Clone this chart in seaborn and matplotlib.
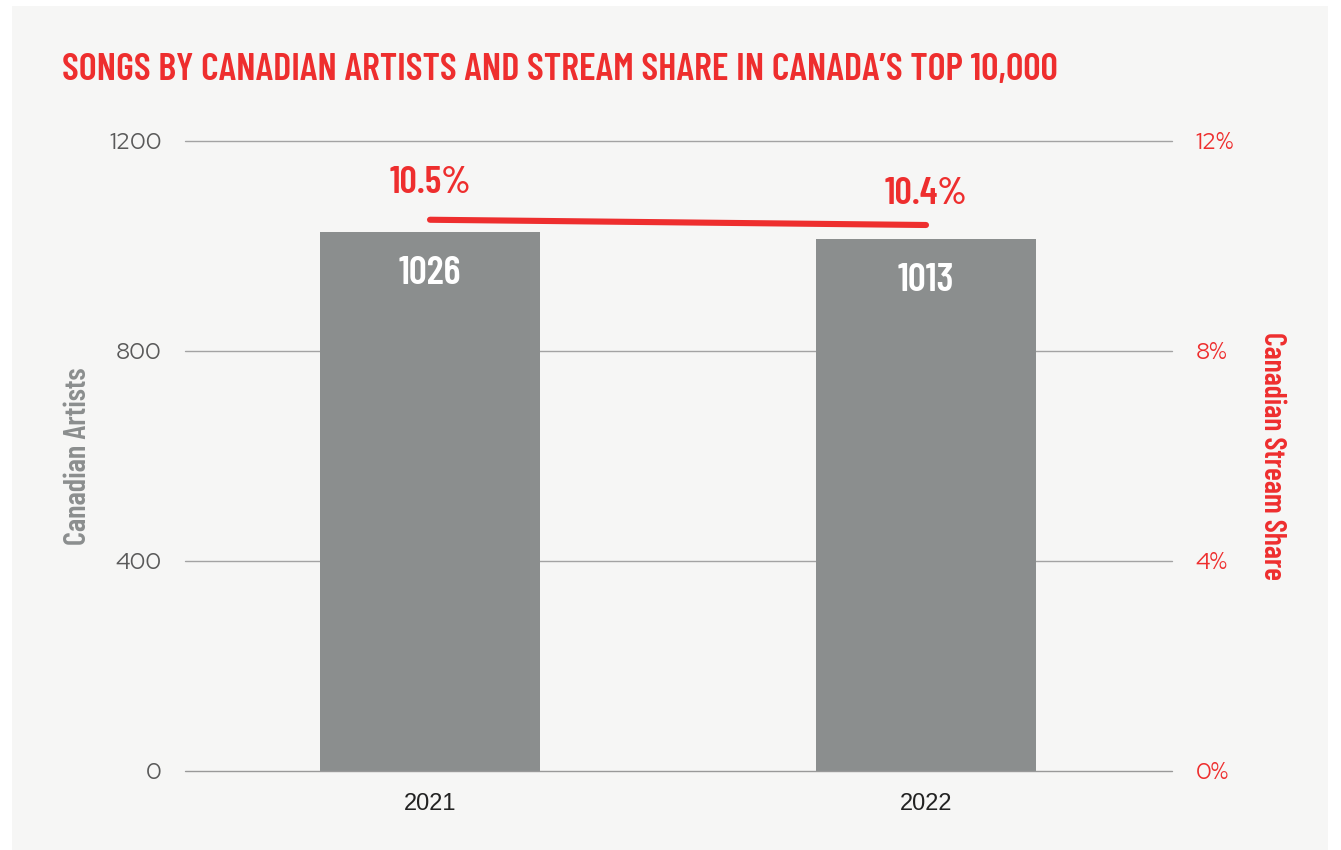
import matplotlib
matplotlib.use("Agg")
import matplotlib.pyplot as plt
from matplotlib.patches import Rectangle
from matplotlib import font_manager
import numpy as np
import seaborn as sns

# Data
years = ["2021", "2022"]
artists = [1026, 1013]
stream_share = [10.5, 10.4]
left_ticks = [0, 400, 800, 1200]
right_ticks = [0, 4, 8, 12]

RED = "#ee2e2e"
GREY_BAR = "#8b8e8e"
PANEL = "#f6f6f5"

installed = {f.name for f in font_manager.fontManager.ttflist}


def pick(*names):
    for n in names:
        if n in installed:
            return n
    return "DejaVu Sans"


COND = pick("Barlow Condensed", "Fira Sans Extra Condensed", "Roboto Condensed")
TICK = pick("Red Hat Display", "Albert Sans", "Lato")
XTICK = pick("Liberation Sans", "Arimo", "DejaVu Sans")

sns.set_theme(style="white")
plt.rcParams["font.family"] = [TICK, "DejaVu Sans"]

fig = plt.figure(figsize=(13.41, 8.5), dpi=100, facecolor="white")
W, H = 1341, 850

# light panel behind the chart
fig.patches.append(Rectangle((12 / W, 0), 1316 / W, 844 / H, transform=fig.transFigure,
                             facecolor=PANEL, edgecolor="none", zorder=-10))

ax = fig.add_axes([185 / W, (H - 771) / H, 987 / W, 630 / H])
ax.set_facecolor("none")

sns.barplot(x=years, y=artists, color=GREY_BAR, saturation=1, width=0.4435, ax=ax,
            edgecolor="none", linewidth=0, zorder=3)
ax.set_xlim(-0.494, 1.496)
ax.set_ylim(0, 1200)
ax.set_yticks(left_ticks)
ax.set_yticklabels([str(t) for t in left_ticks])
for y in left_ticks:
    ax.axhline(y, color="#a3a3a3" if y else "#999999", lw=1.0, zorder=1 if y else 4,
               clip_on=False)
for s in ax.spines.values():
    s.set_visible(False)
ax.tick_params(axis="y", length=0, pad=17, labelsize=17, labelcolor="#5a5a5a")
ax.tick_params(axis="x", length=0, pad=16, labelsize=17, labelcolor="#222222")
for lbl in ax.get_xticklabels():
    lbl.set_family(XTICK)
ax.set_xlabel("")
ax.set_ylabel("Canadian Artists", family=COND, weight="semibold", fontsize=22, color=GREY_BAR)
ax.yaxis.label.set_va("center")
ax.yaxis.set_label_coords(-0.1085, 0.5)

# value labels inside the bars
for i, v in enumerate(artists):
    ax.annotate(str(v), (i, v), xytext=(0, -30), textcoords="offset points",
                ha="center", va="center", family=COND, weight="semibold", fontsize=28.5,
                color="white", zorder=5)

ax2 = ax.twinx()
ax2.set_facecolor("none")
sns.lineplot(x=np.arange(len(years)), y=stream_share, color=RED, lw=4.4,
             solid_capstyle="round", ax=ax2, zorder=6)
ax2.set_xlim(-0.494, 1.496)
ax2.set_ylim(0, 12)
ax2.set_yticks(right_ticks)
ax2.set_yticklabels([f"{t}%" for t in right_ticks])
for s in ax2.spines.values():
    s.set_visible(False)
ax2.tick_params(axis="y", length=0, pad=17, labelsize=17, labelcolor=RED)
ax2.grid(False)
ax2.set_ylabel("Canadian Stream Share", family=COND, weight="semibold", fontsize=21.5,
               color=RED, rotation=270)
ax2.yaxis.label.set_va("center")
ax2.yaxis.set_label_coords(1.1013, 0.5)

share_offsets = [26.5, 22.5]
for i, v in enumerate(stream_share):
    ax2.annotate(f"{v}%", (i, v), xytext=(0, share_offsets[i]), textcoords="offset points",
                 ha="center", va="center", family=COND, weight="semibold", fontsize=27.5,
                 color=RED, zorder=7)

fig.text(62 / W, (H - 80) / H, "SONGS BY CANADIAN ARTISTS AND STREAM SHARE IN CANADA\u2019S TOP 10,000",
         family=COND, weight="semibold", fontsize=27.6, color=RED, ha="left", va="baseline")

fig.savefig("out.png", dpi=100, facecolor="white")
